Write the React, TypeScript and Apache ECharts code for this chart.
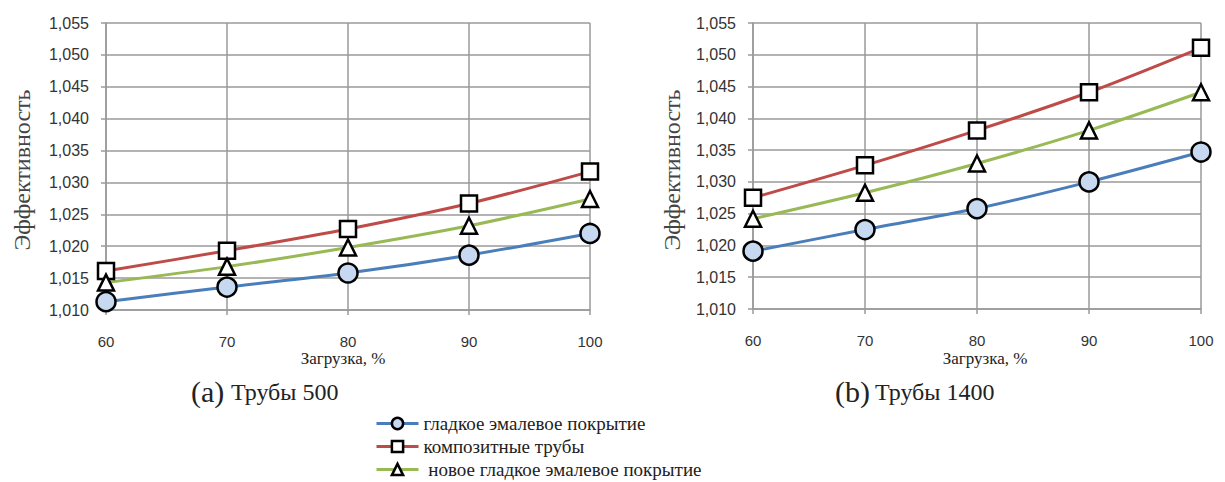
import React, { useEffect, useRef } from "react";
import * as echarts from "echarts";

const loads = [60, 70, 80, 90, 100];
const yTicksMin = 1.01;
const yTicksMax = 1.055;
const seriesNames = ["гладкое эмалевое покрытие", "композитные трубы", " новое гладкое эмалевое покрытие"];

const a_smooth = [1.0113, 1.0136, 1.0158, 1.0186, 1.0220];
const a_composite = [1.0161, 1.0193, 1.0227, 1.0267, 1.0317];
const a_newSmooth = [1.0143, 1.0168, 1.0198, 1.0232, 1.0274];

const b_smooth = [1.0191, 1.0225, 1.0258, 1.0300, 1.0347];
const b_composite = [1.0275, 1.0326, 1.0381, 1.0441, 1.0511];
const b_newSmooth = [1.0242, 1.0283, 1.0329, 1.0381, 1.0441];

const yName = "Эффективность";
const xName = "Загрузка, %";
const captions = [["(a)", "Трубы 500"], ["(b)", "Трубы 1400"]];

const colors = ["#4a7ebb", "#be4b48", "#98b954"];
const symbols = ["circle", "rect", "triangle"];
const fills = ["#c6d9f1", "#ffffff", "#ffffff"];
const sizes = [19, 16, 16];

const SERIF = "'Liberation Serif', 'Times New Roman', serif";
const SANS = "'Liberation Sans', Arial, sans-serif";

export default function App() {
  const ref = useRef<HTMLDivElement>(null);
  useEffect(() => {
    document.body.style.margin = "0";
    const chart = echarts.init(ref.current!, null, { renderer: "svg" });
    const gridLine = { show: true, lineStyle: { color: "#9a9a9a", width: 1.5 } };
    const mkX = (gi: number) => ({
      type: "value" as const,
      gridIndex: gi,
      min: 60,
      max: 100,
      interval: 10,
      axisLine: { show: true, lineStyle: { color: "#9a9a9a", width: 1.5 } },
      axisTick: { show: true, length: 5, lineStyle: { color: "#9a9a9a", width: 1.5 } },
      axisLabel: { margin: 24, fontFamily: SANS, fontSize: 15, color: "#333" },
      splitLine: gridLine,
    });
    const mkY = (gi: number) => ({
      type: "value" as const,
      gridIndex: gi,
      min: yTicksMin,
      max: yTicksMax,
      interval: 0.005,
      axisLine: { show: true, lineStyle: { color: "#9a9a9a", width: 1.5 } },
      axisTick: { show: true, length: 5, lineStyle: { color: "#9a9a9a", width: 1.5 } },
      axisLabel: {
        margin: 17,
        fontFamily: SANS,
        fontSize: 16,
        color: "#333",
        formatter: (v: number) => v.toFixed(3).replace(".", ","),
      },
      splitLine: gridLine,
    });
    const datasets = [
      [a_smooth, a_composite, a_newSmooth],
      [b_smooth, b_composite, b_newSmooth],
    ];
    const series: any[] = [];
    datasets.forEach((group, gi) => {
      group.forEach((vals, si) => {
        series.push({
          type: "line",
          name: seriesNames[si],
          xAxisIndex: gi,
          yAxisIndex: gi,
          smooth: 0.3,
          data: loads.map((x, i) => [x, vals[i]]),
          symbol: symbols[si],
          symbolSize: sizes[si],
          lineStyle: { color: colors[si], width: 3 },
          itemStyle: { color: fills[si], borderColor: "#000", borderWidth: 2.5 },
          z: 3,
        });
      });
    });
    const txt = (x: number, y: number, text: string, size: number, extra: any = {}) => ({
      type: "text",
      x,
      y,
      ...extra,
      style: {
        text,
        font: `${size}px ${SERIF}`,
        fill: extra.fill || "#222",
        align: extra.align || "center",
        verticalAlign: "middle",
      },
    });
    const legendRows = [424, 447, 470];
    const legends = seriesNames.map((n, i) => ({
      orient: "horizontal",
      left: 375,
      top: legendRows[i] - 10,
      padding: 0,
      itemWidth: 42,
      itemHeight: 14,
      formatter: (s: string) => `{s|${s}}`,
      textStyle: {
        rich: { s: { fontFamily: SERIF, fontSize: 19, color: "#222", lineHeight: 20 } },
      },
      data: [
        {
          name: n,
          itemStyle: { color: fills[i], borderColor: "#000", borderWidth: 2.5 },
          lineStyle: { color: colors[i], width: 3 },
        },
      ],
    }));
    chart.setOption({
      animation: false,
      grid: [
        { left: 106, width: 484, top: 23, height: 287 },
        { left: 753, width: 448, top: 23, height: 286 },
      ],
      xAxis: [mkX(0), mkX(1)],
      yAxis: [mkY(0), mkY(1)],
      legend: legends,
      graphic: [
        txt(22, 170, yName, 24, { rotation: Math.PI / 2, fill: "#444" }),
        txt(672, 170, yName, 24, { rotation: Math.PI / 2, fill: "#444" }),
        txt(343, 358, xName, 17),
        txt(985, 358, xName, 17),
        txt(191, 391, captions[0][0], 30, { align: "left" }),
        txt(231, 392, captions[0][1], 24, { align: "left" }),
        txt(835, 391, captions[1][0], 30, { align: "left" }),
        txt(875, 392, captions[1][1], 24, { align: "left" }),
      ],
      series,
    });
    return () => chart.dispose();
  }, []);
  return <div ref={ref} style={{ width: 1225, height: 482, position: "absolute", left: 0, top: 0 }} />;
}
